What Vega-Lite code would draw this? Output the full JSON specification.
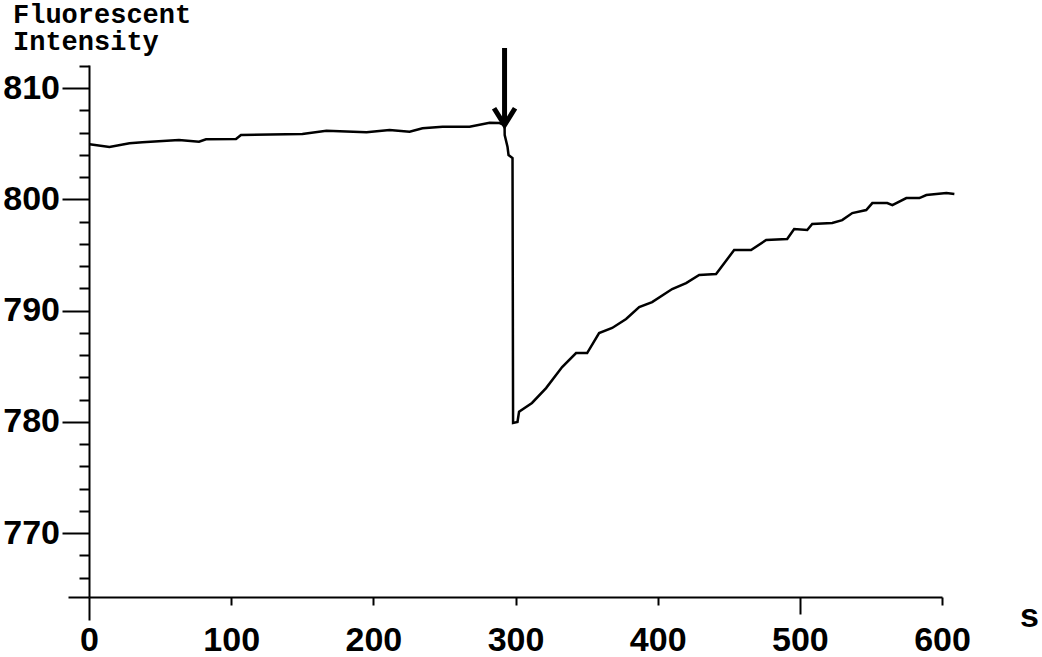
{
  "$schema": "https://vega.github.io/schema/vega-lite/v6.json",
  "width": 853,
  "height": 532,
  "autosize": {"type": "none"},
  "padding": {"left": 89, "top": 65, "right": 100, "bottom": 60},
  "background": "white",
  "config": {"view": {"stroke": null}},
  "datasets": {
    "trace": [
      {"t": 0.4, "v": 804.94}, {"t": 14.4, "v": 804.7}, {"t": 28.5, "v": 805.03}, {"t": 37.6, "v": 805.12},
      {"t": 63.3, "v": 805.33}, {"t": 77.4, "v": 805.17}, {"t": 82.3, "v": 805.39}, {"t": 103.4, "v": 805.42},
      {"t": 106.9, "v": 805.78}, {"t": 150.1, "v": 805.87}, {"t": 167.0, "v": 806.16}, {"t": 195.2, "v": 806.02},
      {"t": 211.4, "v": 806.22}, {"t": 225.5, "v": 806.07}, {"t": 234.6, "v": 806.38}, {"t": 248.7, "v": 806.52},
      {"t": 267.7, "v": 806.52}, {"t": 281.8, "v": 806.88}, {"t": 288.8, "v": 806.85}, {"t": 292.3, "v": 806.67},
      {"t": 292.4, "v": 805.78}, {"t": 294.4, "v": 804.7}, {"t": 295.1, "v": 803.98}, {"t": 297.9, "v": 803.71},
      {"t": 298.3, "v": 779.89}, {"t": 301.4, "v": 779.98}, {"t": 302.5, "v": 780.9}, {"t": 311.6, "v": 781.69},
      {"t": 321.5, "v": 783.03}, {"t": 332.8, "v": 784.92}, {"t": 342.6, "v": 786.18}, {"t": 350.4, "v": 786.18},
      {"t": 358.8, "v": 787.98}, {"t": 368.0, "v": 788.43}, {"t": 377.8, "v": 789.24}, {"t": 387.0, "v": 790.31},
      {"t": 396.1, "v": 790.76}, {"t": 410.2, "v": 791.93}, {"t": 420.0, "v": 792.47}, {"t": 429.2, "v": 793.19},
      {"t": 441.1, "v": 793.28}, {"t": 453.8, "v": 795.44}, {"t": 465.7, "v": 795.44}, {"t": 476.3, "v": 796.34},
      {"t": 491.1, "v": 796.43}, {"t": 496.0, "v": 797.33}, {"t": 505.2, "v": 797.24}, {"t": 508.7, "v": 797.78},
      {"t": 522.8, "v": 797.87}, {"t": 529.8, "v": 798.13}, {"t": 536.9, "v": 798.76}, {"t": 546.7, "v": 799.03},
      {"t": 551.0, "v": 799.66}, {"t": 561.5, "v": 799.66}, {"t": 565.1, "v": 799.48}, {"t": 574.9, "v": 800.11},
      {"t": 584.1, "v": 800.11}, {"t": 589.0, "v": 800.38}, {"t": 603.1, "v": 800.56}, {"t": 608.7, "v": 800.47}
    ],
    "arrow": [{"t": 292.3, "top": 813.6, "tip": 806.67}]
  },
  "layer": [
    {
      "data": {"name": "trace"},
      "mark": {"type": "line", "color": "black", "strokeWidth": 2.5},
      "encoding": {
        "x": {
          "field": "t", "type": "quantitative",
          "scale": {"domain": [0, 600], "nice": false, "zero": false},
          "axis": {
            "title": "s",
            "titleFont": "Liberation Sans", "titleFontWeight": "bold", "titleFontSize": 34, "titleColor": "black",
            "titleX": 940, "titleY": 19, "titleAlign": "center", "titleBaseline": "middle", "titleAnchor": null,
            "values": [0, 100, 200, 300, 400, 500, 600],
            "tickCount": 100,
            "format": "d",
            "grid": false,
            "labelFlush": false,
            "labelOverlap": false,
            "labelFont": "Liberation Sans", "labelFontWeight": "bold", "labelFontSize": 34, "labelColor": "black",
            "labelPadding": {"condition": [{"test": "datum.value === 0", "value": 3}, {"test": "datum.value === 500", "value": 9}], "value": 18},
            "domainColor": "black", "domainWidth": 2,
            "tickColor": "black", "tickWidth": 2,
            "tickSize": {"condition": [{"test": "datum.value === 0", "value": 23}, {"test": "datum.value === 500", "value": 17}], "value": 8}
          }
        },
        "y": {
          "field": "v", "type": "quantitative",
          "scale": {"domain": [764.25, 812.07], "nice": false, "zero": false},
          "axis": {
            "title": ["Fluorescent", "Intensity"],
            "titleFont": "Liberation Mono", "titleFontWeight": "bold", "titleFontSize": 27, "titleColor": "black",
            "titleAngle": 0, "titleAlign": "left", "titleBaseline": "alphabetic", "titleAnchor": null,
            "titleX": -76.5, "titleY": -43, "titleLineHeight": 27,
            "values": [764.25, 765, 766, 767, 768, 769, 770, 771, 772, 773, 774, 775, 776, 777, 778, 779, 780, 781, 782, 783, 784, 785, 786, 787, 788, 789, 790, 791, 792, 793, 794, 795, 796, 797, 798, 799, 800, 801, 802, 803, 804, 805, 806, 807, 808, 809, 810, 811, 812],
            "tickCount": 100,
            "format": "d",
            "labelExpr": "datum.value % 10 === 0 ? datum.label : ''",
            "grid": false,
            "labelFlush": false,
            "labelOverlap": false,
            "labelFont": "Liberation Sans", "labelFontWeight": "bold", "labelFontSize": 34, "labelColor": "black",
            "labelPadding": 2.5,
            "domainColor": "black", "domainWidth": 2,
            "tickColor": "black", "tickWidth": 2,
            "tickSize": {"condition": [{"test": "datum.value % 10 === 0", "value": 27}, {"test": "datum.value % 5 === 0 || datum.value < 765", "value": 21}], "value": 10}
          }
        }
      }
    },
    {
      "data": {"name": "arrow"},
      "mark": {"type": "rule", "color": "black", "strokeWidth": 5},
      "encoding": {
        "x": {"field": "t", "type": "quantitative"},
        "y": {"field": "top", "type": "quantitative"},
        "y2": {"field": "tip"}
      }
    },
    {
      "data": {"name": "arrow"},
      "mark": {"type": "point", "shape": "M-1,-1.6L0,0L1,-1.6", "size": 441, "filled": false, "stroke": "black", "strokeWidth": 5, "opacity": 1},
      "encoding": {
        "x": {"field": "t", "type": "quantitative"},
        "y": {"field": "tip", "type": "quantitative"}
      }
    }
  ]
}
